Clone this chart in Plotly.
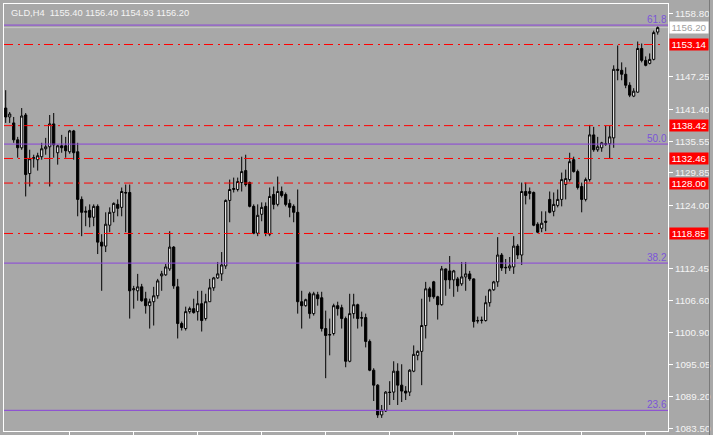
import plotly.graph_objects as go

# ---- data (GLD, H4) ----
opens = [1141.61, 1139.99, 1138.91, 1135.84, 1134.40, 1140.35, 1129.72, 1132.42, 1132.24, 1132.78,
         1134.22, 1134.58, 1138.73, 1133.50, 1134.76, 1134.76, 1133.68, 1137.46, 1133.68, 1125.03,
         1122.69, 1123.05, 1121.79, 1123.77, 1117.28, 1116.56, 1120.35, 1122.69, 1124.13, 1123.59,
         1126.29, 1126.29, 1108.63, 1108.45, 1109.17, 1107.01, 1105.75, 1106.47, 1107.55, 1111.16,
         1111.34, 1112.42, 1116.38, 1109.17, 1102.51, 1101.60, 1104.67, 1105.21, 1104.67, 1106.11,
         1103.41, 1106.47, 1108.99, 1110.79, 1111.52, 1112.96, 1124.85, 1126.83, 1126.83, 1128.09,
         1130.26, 1128.09, 1123.77, 1118.90, 1122.33, 1123.77, 1118.72, 1125.93, 1124.13, 1126.47,
         1125.93, 1124.31, 1123.77, 1122.69, 1106.47, 1105.75, 1107.91, 1104.31, 1107.73, 1107.19,
         1101.60, 1100.52, 1100.70, 1105.75, 1105.39, 1103.41, 1095.66, 1104.31, 1105.93, 1103.59,
         1103.59, 1099.26, 1094.04, 1091.33, 1085.93, 1086.65, 1090.07, 1090.07, 1093.86, 1091.33,
         1090.25, 1090.07, 1093.86, 1096.74, 1097.46, 1102.15, 1108.81, 1110.07, 1107.37, 1105.93,
         1112.42, 1112.06, 1110.43, 1110.61, 1109.71, 1110.97, 1111.52, 1110.61, 1103.05, 1103.05,
         1103.05, 1106.29, 1108.63, 1110.07, 1114.94, 1112.60, 1112.60, 1112.78, 1116.56, 1114.94,
         1126.47, 1126.11, 1126.29, 1120.53, 1119.80, 1121.07, 1125.03, 1122.87, 1123.95, 1125.03,
         1127.73, 1128.63, 1132.24, 1130.08, 1127.37, 1125.03, 1128.63, 1136.74, 1134.04, 1134.40,
         1135.12, 1135.12, 1136.20, 1148.64, 1148.46, 1147.74, 1145.75, 1143.77, 1144.49, 1152.42,
         1150.26, 1149.72, 1150.44, 1155.40]
highs = [1144.85, 1140.89, 1139.99, 1136.38, 1141.61, 1140.71, 1134.04, 1133.14, 1133.50, 1135.30,
         1136.20, 1140.35, 1140.71, 1134.94, 1136.74, 1136.38, 1137.64, 1137.64, 1135.30, 1125.57,
         1123.77, 1124.13, 1124.13, 1124.13, 1118.72, 1122.69, 1123.59, 1124.49, 1125.03, 1127.19,
         1127.73, 1127.73, 1109.35, 1111.52, 1109.71, 1108.27, 1107.01, 1109.17, 1110.61, 1112.06,
         1113.32, 1119.26, 1116.56, 1110.61, 1102.87, 1105.57, 1105.57, 1107.01, 1108.45, 1108.45,
         1107.91, 1110.61, 1110.97, 1113.68, 1115.48, 1125.03, 1128.63, 1128.99, 1128.99, 1132.78,
         1133.14, 1128.27, 1124.13, 1124.13, 1124.49, 1124.49, 1127.19, 1127.37, 1129.18, 1127.37,
         1126.29, 1125.03, 1124.13, 1126.83, 1108.45, 1107.01, 1108.27, 1108.27, 1108.27, 1108.27,
         1104.85, 1103.41, 1106.11, 1106.47, 1105.93, 1103.77, 1107.91, 1107.91, 1106.11, 1104.67,
         1104.31, 1099.62, 1094.40, 1091.51, 1087.73, 1090.25, 1092.05, 1095.66, 1095.30, 1095.12,
         1091.15, 1094.22, 1098.54, 1097.64, 1107.01, 1110.07, 1109.17, 1110.25, 1107.55, 1112.96,
         1112.50, 1114.76, 1112.24, 1110.97, 1113.68, 1113.68, 1112.06, 1110.70, 1103.77, 1103.77,
         1107.55, 1108.81, 1110.25, 1118.18, 1115.30, 1114.22, 1114.58, 1118.36, 1116.92, 1128.09,
         1128.09, 1127.19, 1126.47, 1120.89, 1122.87, 1122.87, 1126.47, 1126.29, 1126.83, 1129.90,
         1130.44, 1133.50, 1132.78, 1130.44, 1128.09, 1128.99, 1138.55, 1138.19, 1136.38, 1135.48,
         1138.37, 1138.37, 1149.36, 1152.96, 1149.90, 1149.00, 1146.29, 1145.21, 1153.68, 1153.32,
         1150.98, 1151.52, 1155.66, 1156.40]
lows = [1138.91, 1138.91, 1135.30, 1132.60, 1134.04, 1125.57, 1127.37, 1130.80, 1130.26, 1132.24,
        1133.14, 1127.37, 1132.60, 1131.34, 1133.50, 1132.60, 1133.32, 1132.24, 1121.97, 1118.36,
        1120.17, 1119.98, 1120.17, 1115.12, 1108.45, 1115.48, 1119.08, 1120.89, 1121.97, 1121.97,
        1119.08, 1103.41, 1105.21, 1106.65, 1106.47, 1104.31, 1101.60, 1102.15, 1107.01, 1108.45,
        1111.16, 1112.06, 1108.81, 1099.80, 1101.24, 1101.24, 1104.31, 1104.31, 1103.05, 1101.06,
        1103.05, 1106.47, 1108.45, 1110.61, 1110.25, 1112.42, 1120.89, 1126.29, 1126.47, 1126.47,
        1127.37, 1123.59, 1118.72, 1118.36, 1121.07, 1118.36, 1118.36, 1123.23, 1123.77, 1125.39,
        1123.77, 1121.79, 1120.89, 1104.31, 1101.60, 1105.57, 1103.41, 1103.95, 1105.75, 1101.06,
        1092.59, 1096.74, 1100.34, 1103.95, 1101.60, 1094.58, 1095.48, 1103.41, 1101.60, 1101.96,
        1098.18, 1093.86, 1088.45, 1085.39, 1085.39, 1086.47, 1087.73, 1088.63, 1087.73, 1088.27,
        1088.63, 1089.35, 1093.68, 1095.84, 1091.33, 1099.80, 1106.47, 1107.01, 1103.23, 1105.75,
        1107.55, 1108.81, 1107.37, 1108.27, 1109.35, 1108.45, 1110.25, 1101.78, 1102.51, 1102.51,
        1102.87, 1105.57, 1108.45, 1109.17, 1112.06, 1111.52, 1112.06, 1111.52, 1114.22, 1113.14,
        1124.13, 1125.03, 1120.17, 1118.90, 1119.08, 1119.26, 1122.51, 1121.97, 1123.59, 1123.77,
        1125.03, 1128.27, 1129.90, 1126.83, 1122.69, 1124.67, 1128.27, 1133.68, 1133.68, 1133.68,
        1134.76, 1132.42, 1134.40, 1146.65, 1146.65, 1145.21, 1143.59, 1143.59, 1144.40, 1149.90,
        1149.18, 1149.54, 1150.26, 1154.93]
closes = [1139.99, 1140.53, 1135.84, 1134.40, 1140.17, 1129.54, 1132.42, 1132.60, 1132.96, 1134.22,
          1134.58, 1138.73, 1134.94, 1134.76, 1134.40, 1133.86, 1137.46, 1133.50, 1125.03, 1122.69,
          1122.87, 1121.79, 1123.77, 1117.28, 1116.56, 1120.53, 1122.69, 1124.31, 1123.41, 1126.47,
          1126.20, 1108.45, 1108.81, 1109.17, 1106.65, 1105.75, 1106.47, 1107.55, 1110.25, 1111.52,
          1112.78, 1116.38, 1109.35, 1102.51, 1101.78, 1104.67, 1105.21, 1104.49, 1106.11, 1103.05,
          1106.47, 1108.99, 1110.79, 1111.52, 1113.14, 1124.85, 1126.83, 1127.01, 1128.27, 1130.08,
          1127.73, 1123.77, 1118.90, 1122.15, 1123.59, 1118.90, 1125.57, 1124.13, 1126.47, 1125.75,
          1124.13, 1123.59, 1122.69, 1106.47, 1105.75, 1106.83, 1104.31, 1107.91, 1107.01, 1101.60,
          1100.34, 1100.45, 1105.75, 1105.21, 1103.41, 1095.66, 1104.31, 1105.93, 1103.41, 1103.50,
          1099.26, 1094.04, 1091.33, 1085.93, 1086.83, 1090.07, 1090.00, 1093.86, 1091.33, 1090.25,
          1089.89, 1094.04, 1096.92, 1097.46, 1102.15, 1108.81, 1107.37, 1107.37, 1105.93, 1112.42,
          1110.43, 1110.43, 1112.06, 1109.35, 1110.97, 1111.52, 1110.61, 1102.87, 1103.00, 1103.10,
          1106.29, 1108.63, 1110.07, 1114.94, 1112.60, 1112.70, 1112.96, 1116.56, 1114.94, 1126.47,
          1125.75, 1126.47, 1120.35, 1119.08, 1120.71, 1120.89, 1122.69, 1124.13, 1125.03, 1128.63,
          1128.81, 1131.88, 1130.08, 1127.19, 1125.03, 1128.63, 1136.74, 1134.04, 1134.58, 1135.30,
          1135.05, 1136.38, 1148.64, 1148.46, 1147.74, 1145.75, 1143.95, 1144.67, 1152.42, 1150.26,
          1149.36, 1150.44, 1155.30, 1156.20]
bars = list(range(len(opens)))

symbol = "GLD,H4"
red_levels = [1153.14, 1138.42, 1132.46, 1128.00, 1118.85]
fib_levels = [23.6, 38.2, 50.0, 61.8]
fib_zero = 1043.57
fib_hundred = 1226.57
y_ticks = [1158.80, 1147.25, 1141.40, 1135.55, 1129.85, 1124.00,
           1112.45, 1106.60, 1100.90, 1095.05, 1089.20, 1083.50]
x_ticks = [16, 32, 48, 64, 80, 96, 112, 128, 144, 160]
y_range = [1083.01, 1160.49]
x_range = [-0.425, 165.575]

BG = "#A8A8A8"
FONT = "Liberation Sans, Arial, sans-serif"
FS = 9.3
FIB_LINE = "#8A44DA"
FIB_TEXT = "#7B55D8"
RED = "#FF0000"

fig = go.Figure()
fig.add_trace(go.Candlestick(
    x=bars, open=opens, high=highs, low=lows, close=closes,
    increasing=dict(line=dict(color="black", width=1), fillcolor="white"),
    decreasing=dict(line=dict(color="black", width=1), fillcolor="black"),
    whiskerwidth=0, hoverinfo="skip", showlegend=False))

shapes = []
annotations = []

# bid line
bid = closes[-1]
shapes.append(dict(type="line", xref="paper", yref="y", x0=0, x1=1, y0=bid, y1=bid,
                   line=dict(color="#C8C8C8", width=1), layer="below"))

# fib levels
for lv in fib_levels:
    price = fib_zero + (fib_hundred - fib_zero) * lv / 100.0
    shapes.append(dict(type="line", xref="paper", yref="y", x0=0, x1=1, y0=price, y1=price,
                       line=dict(color=FIB_LINE, width=1), layer="above"))
    annotations.append(dict(xref="paper", yref="y", x=1.0, y=price, text=f"{lv:.1f}",
                            xanchor="right", yanchor="bottom", showarrow=False, yshift=-2,
                            xshift=1,
                            font=dict(family=FONT, size=FS + 0.7, color=FIB_TEXT)))

# red horizontal levels
for lv in red_levels:
    shapes.append(dict(type="line", xref="paper", yref="y", x0=0, x1=0.991, y0=lv, y1=lv,
                       line=dict(color=RED, width=1, dash="9px,5px,2px,4px"), layer="above"))
    annotations.append(dict(xref="paper", yref="y", x=1.0015, y=lv, text=f"{lv:.2f}",
                            xanchor="left", yanchor="middle", showarrow=False,
                            bgcolor=RED, borderpad=1, width=36, height=9,
                            font=dict(family=FONT, size=FS + 0.5, color="white")))

# bid label
annotations.append(dict(xref="paper", yref="y", x=1.0015, y=bid, text=f"{bid:.2f}",
                        xanchor="left", yanchor="middle", showarrow=False,
                        bgcolor="white", borderpad=1, width=36, height=9,
                        font=dict(family=FONT, size=FS + 0.5, color="#A0A0A0")))

# header
annotations.append(dict(xref="paper", yref="paper", x=0.0075, y=0.979,
                        text=f"{symbol}  {opens[-1]:.2f} {highs[-1]:.2f} {lows[-1]:.2f} {closes[-1]:.2f}",
                        xanchor="left", yanchor="middle", showarrow=False,
                        font=dict(family=FONT, size=FS, color="#F4F4F4")))

# window border on the right
shapes.append(dict(type="line", xref="paper", yref="paper", x0=1.0625, x1=1.0625, y0=-0.02, y1=1.02,
                   line=dict(color="#7A7A7A", width=1)))

fig.update_layout(
    width=713, height=435,
    margin=dict(l=4, r=45, t=4, b=4, autoexpand=False),
    paper_bgcolor=BG, plot_bgcolor=BG,
    shapes=shapes, annotations=annotations,
    showlegend=False,
    boxgap=0.22,
    xaxis=dict(range=x_range, rangeslider=dict(visible=False), showgrid=False, zeroline=False,
               tickmode="array", tickvals=x_ticks, showticklabels=False,
               ticks="outside", ticklen=4, tickcolor="white", automargin=False,
               showline=True, linecolor="white", linewidth=1, mirror=True, fixedrange=True),
    yaxis=dict(range=y_range, side="right", showgrid=False, zeroline=False,
               tickmode="array", tickvals=y_ticks, ticktext=[f"{v:.2f}" for v in y_ticks],
               ticks="outside", ticklen=4, tickcolor="white", automargin=False,
               tickfont=dict(family=FONT, size=FS + 0.5, color="#F4F4F4"),
               showline=True, linecolor="white", linewidth=1, mirror=True, fixedrange=True),
)

fig.write_html("out.html", config={"displayModeBar": False},
               post_script="document.body.style.margin='0';document.body.style.overflow='hidden';")
